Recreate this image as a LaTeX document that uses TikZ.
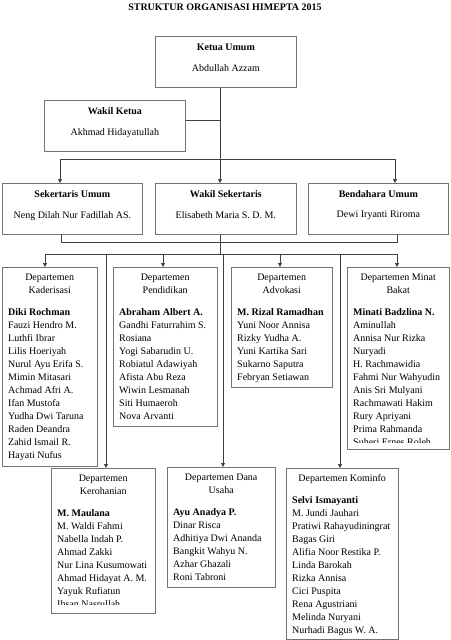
\documentclass[tikz,border=0pt]{standalone}
\usepackage{fontspec}
\setmainfont{Liberation Serif}
\usetikzlibrary{arrows.meta,calc}
\tikzset{
  box/.style={draw=black!55, line width=0.7pt, inner sep=0pt, anchor=north west},
  conn/.style={draw=black!75, line width=0.8pt},
  arr/.style={conn, -{Triangle[length=4pt,width=4pt]}},
  ttl/.style={font=\fontsize{10}{12}\selectfont\bfseries, anchor=base, inner sep=0pt},
  nm/.style={font=\fontsize{10}{12}\selectfont, anchor=base, inner sep=0pt},
  dtext/.style={anchor=base west, inner sep=0pt, font=\fontsize{10}{13}\selectfont},
  titlestyle/.style={font=\fontsize{10}{12}\selectfont\bfseries, inner sep=0pt}
}
% name, x, y, w, h, clip inset, header, body
\newcommand\deptbox[8]{%
  \node[box, minimum width=#4pt, minimum height=#5pt] (#1) at (#2,#3) {};
  \begin{scope}
    \clip ([xshift=-1pt]#1.north west) rectangle ([yshift=#6pt]#1.south east);
    \node[dtext] (#1t) at ([xshift=6pt,yshift=-13pt]#1.north west)
      {\parbox[t]{\dimexpr#4pt-12pt\relax}{\centering #7\par\vspace{9pt}%
        \raggedright\begin{tabular}[t]{@{}l@{}}#8\end{tabular}}};
  \end{scope}
}
\begin{document}
\begin{tikzpicture}[x=1pt,y=-1pt]
\fill[white] (0,0) rectangle (450,640);
\useasboundingbox (0,0) rectangle (450,640);

\node[titlestyle] (title) at (225,7) {STRUKTUR ORGANISASI HIMEPTA 2015};

% top boxes
\node[box, minimum width=141pt, minimum height=51pt] (k) at (155,36) {};
\node[ttl] (kT) at ($(k.north)+(0,14)$) {Ketua Umum};
\node[nm] (kN) at ($(k.north)+(0,35)$) {Abdullah Azzam};

\node[box, minimum width=141pt, minimum height=51pt] (wk) at (44,100) {};
\node[ttl] (wkT) at ($(wk.north)+(0,14)$) {Wakil Ketua};
\node[nm] (wkN) at ($(wk.north)+(0,35)$) {Akhmad Hidayatullah};

\node[box, minimum width=140pt, minimum height=51pt] (sek) at (2,183) {};
\node[ttl] (sekT) at ($(sek.north)+(0,14)$) {Sekertaris Umum};
\node[nm] (sekN) at ($(sek.north)+(0,35)$) {Neng Dilah Nur Fadillah AS.};

\node[box, minimum width=141pt, minimum height=51pt] (ws) at (155,183) {};
\node[ttl] (wsT) at ($(ws.north)+(0,14)$) {Wakil Sekertaris};
\node[nm] (wsN) at ($(ws.north)+(0,35)$) {Elisabeth Maria S. D. M.};

\node[box, minimum width=140pt, minimum height=51pt] (bend) at (308,183) {};
\node[ttl] (bendT) at ($(bend.north)+(0,14)$) {Bendahara Umum};
\node[nm] (bendN) at ($(bend.north)+(0,34)$) {Dewi Iryanti Riroma};

% departments, upper row
\deptbox{kad}{2}{267}{95}{199}{0}{Departemen\\Kaderisasi}{\textbf{Diki Rochman}\\Fauzi Hendro M.\\Luthfi Ibrar\\Lilis Hoeriyah\\Nurul Ayu Erifa S.\\Mimin Mitasari\\Achmad Afri A.\\Ifan Mustofa\\Yudha Dwi Taruna\\Raden Deandra\\Zahid Ismail R.\\Hayati Nufus}
\deptbox{pend}{113}{267}{104}{159}{0}{Departemen\\Pendidikan}{\textbf{Abraham Albert A.}\\Gandhi Faturrahim S.\\Rosiana\\Yogi Sabarudin U.\\Robiatul Adawiyah\\Afista Abu Reza\\Wiwin Lesmanah\\Siti Humaeroh\\Nova Arvanti}
\deptbox{adv}{231}{267}{101}{120}{0}{Departemen\\Advokasi}{\textbf{M. Rizal Ramadhan}\\Yuni Noor Annisa\\Rizky Yudha A.\\Yuni Kartika Sari\\Sukarno Saputra\\Febryan Setiawan}
\deptbox{minat}{347}{267}{102}{182}{7}{Departemen Minat\\Bakat}{\textbf{Minati Badzlina N.}\\Aminullah\\Annisa Nur Rizka\\Nuryadi\\H. Rachmawidia\\Fahmi Nur Wahyudin\\Anis Sri Mulyani\\Rachmawati Hakim\\Rury Apriyani\\Prima Rahmanda\\Suheri Ernes Roleh}

% departments, lower row
\deptbox{kero}{51}{468}{104}{145}{9}{Departemen\\Kerohanian}{\textbf{M. Maulana}\\M. Waldi Fahmi\\Nabella Indah P.\\Ahmad Zakki\\Nur Lina Kusumowati\\Ahmad Hidayat A. M.\\Yayuk Rufiatun\\Ihsan Nasrullah}
\deptbox{dana}{167}{467}{108}{120}{0}{Departemen Dana\\Usaha}{\textbf{Ayu Anadya P.}\\Dinar Risca\\Adhitiya Dwi Ananda\\Bangkit Wahyu N.\\Azhar Ghazali\\Roni Tabroni}
\deptbox{komi}{286}{468}{112}{171}{0}{Departemen Kominfo}{\textbf{Selvi Ismayanti}\\M. Jundi Jauhari\\Pratiwi Rahayudiningrat\\Bagas Giri\\Alifia Noor Restika P.\\Linda Barokah\\Rizka Annisa\\Cici Puspita\\Rena Agustriani\\Melinda Nuryani\\Nurhadi Bagus W. A.}

% connectors
\coordinate (j1) at (220,120);
\coordinate (b1L) at (60,159);
\coordinate (b1M) at (220,159);
\coordinate (b1R) at (395,159);
\draw[conn] (k.south -| b1M) -- (b1M);
\draw[conn] (j1 -| wk.east) -- (j1);
\draw[conn] (b1L) -- (b1R);
\draw[arr] (b1L) -- (b1L |- sek.north);
\draw[arr] (b1M) -- (b1M |- ws.north);
\draw[arr] (b1R) -- (b1R |- bend.north);

\coordinate (b2L) at (61,242);
\coordinate (b2R) at (397,242);
\draw[conn] (sek.south -| b2L) -- (b2L) -- (b2R) -- (bend.south -| b2R);
\coordinate (b3M) at (220,254);
\draw[conn] (ws.south -| b3M) -- (b3M);
\coordinate (c1) at (45,254);
\coordinate (c2) at (163,254);
\coordinate (c3) at (280,254);
\coordinate (c4) at (397,254);
\coordinate (c5) at (106,254);
\coordinate (c6) at (223,254);
\coordinate (c7) at (340,254);
\draw[conn] (c1) -- (c4);
\draw[arr] (c1) -- (c1 |- kad.north);
\draw[arr] (c2) -- (c2 |- pend.north);
\draw[arr] (c3) -- (c3 |- adv.north);
\draw[arr] (c4) -- (c4 |- minat.north);
\draw[arr] (c5) -- (c5 |- kero.north);
\draw[arr] (c6) -- (c6 |- dana.north);
\draw[arr] (c7) -- (c7 |- komi.north);
\end{tikzpicture}
\end{document}
